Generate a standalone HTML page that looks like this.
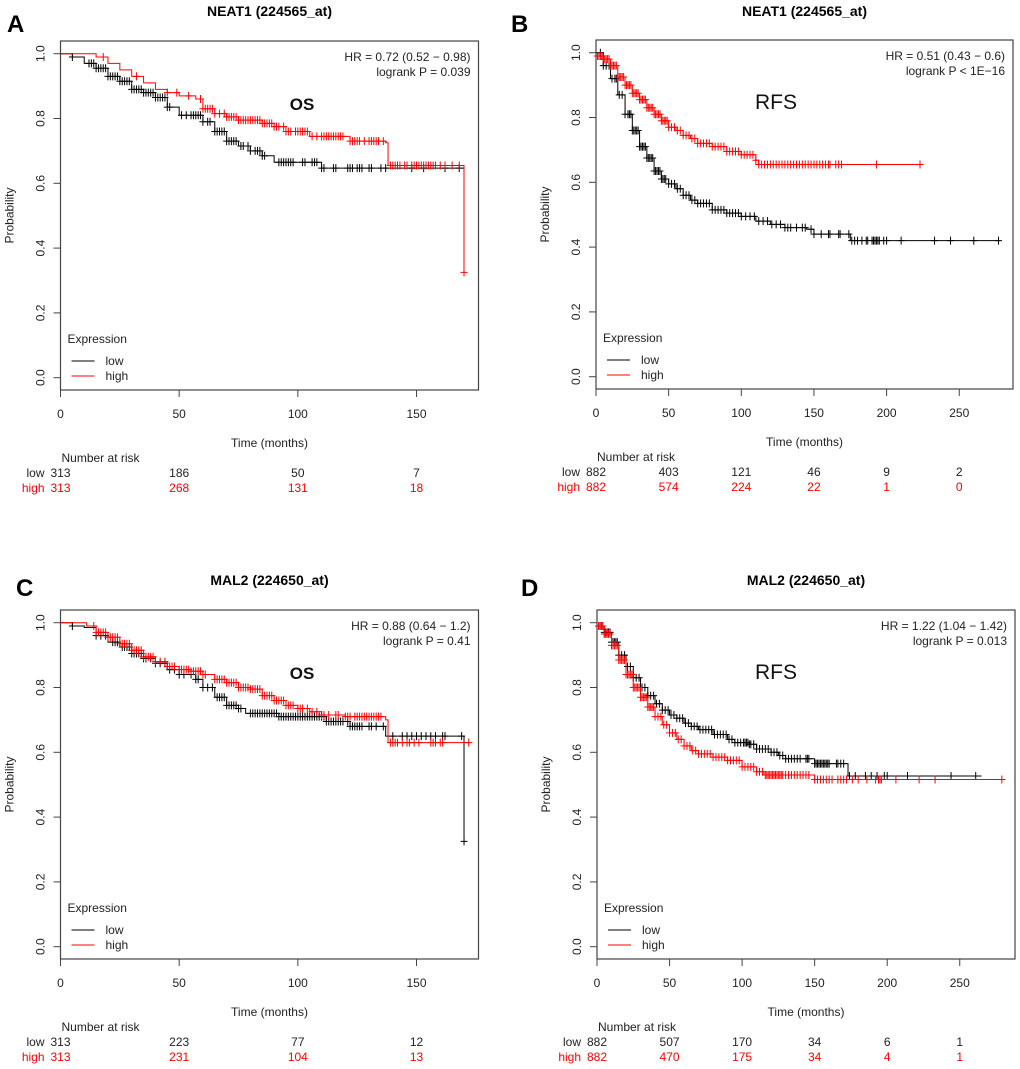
<!DOCTYPE html>
<html><head><meta charset="utf-8"><style>
html,body{margin:0;padding:0;background:#fff;}
svg{display:block;font-family:"Liberation Sans",Arial,sans-serif;}
</style></head><body>
<svg id="fig" width="1020" height="1069" viewBox="0 0 1020 1069" xmlns="http://www.w3.org/2000/svg"></svg>
<script>
// ---- Panel A: NEAT1 OS ----
const aLowT=[0,5,10,15,20,25,30,35,40,45,50,58,60,65,70,75,80,85,90,108,110,170];
const aLowS=[1,0.99,0.97,0.955,0.93,0.915,0.89,0.88,0.865,0.835,0.81,0.81,0.79,0.76,0.73,0.715,0.70,0.685,0.665,0.665,0.647,0.647];
const aLowC=[5,12,13,14,15,16,17,18,19,20,21,22,23,24,25,26,27,28,29,30,31,32,33,34,35,36,37,38,39,40,41,42,43,44,45,46,51,53,55,56,57,58,59,60,62,63,65,66,67,68,69,70,71,72,73,74,76,77,79,80,82,83,84,85,86,92,93,94,95,96,97,98,102,103,106,107,108,110,111,115,116,121,122,123,125,126,127,130,131,135,137,148,153,162,168];
const aHighT=[0,13,15,20,25,30,35,40,45,50,57,60,65,70,75,85,90,95,105,122,137,138,170];
const aHighS=[1,1,0.99,0.97,0.95,0.93,0.91,0.89,0.88,0.87,0.86,0.83,0.815,0.805,0.795,0.785,0.775,0.76,0.745,0.73,0.725,0.655,0.325];
const aHighC=[18,32,45,49,54,59,60,61,62,63,64,65,67,69,70,71,72,73,74,75,76,77,78,79,80,81,82,83,84,85,86,87,88,89,90,91,92,94,95,96,97,99,100,101,102,103,104,106,108,110,111,112,113,114,115,116,117,118,119,122,123,124,125,126,128,130,131,132,133,134,136,139,140,141,142,143,145,146,148,149,150,151,152,153,154,155,156,157,158,160,162,165,168,170];
const aXTicks=[0,50,100,150];
const aRiskLow=["313","186","50","7"];
const aRiskHigh=["313","268","131","18"];
// ---- Panel B: NEAT1 RFS ----
const bLowT=[0,5,10,15,20,25,30,35,40,45,50,55,60,65,70,80,90,100,110,120,130,145,150,170,175,278];
const bLowS=[1,0.96,0.92,0.87,0.81,0.76,0.71,0.675,0.635,0.61,0.595,0.58,0.56,0.545,0.535,0.515,0.505,0.495,0.48,0.47,0.46,0.455,0.44,0.44,0.42,0.42];
const bLowC=[3,5,7,9,11,13,14,16,18,20,22,23,24,25,26,27,28,29,30,31,32,33,34,35,36,37,38,39,40,41,42,43,44,45,46,47,48,50,52,54,56,58,60,62,64,66,68,70,72,74,76,78,80,82,84,86,88,90,92,94,96,98,100,103,106,109,112,115,118,121,124,127,130,132,134,138,142,144,148,150,155,160,161,167,168,174,176,178,180,183,186,187,190,191,192,193,194,195,198,200,210,233,244,260,277];
const bHighT=[0,5,10,15,20,25,30,35,40,45,50,55,60,65,70,80,90,100,110,112,225];
const bHighS=[0.99,0.98,0.96,0.925,0.90,0.875,0.855,0.83,0.81,0.79,0.77,0.76,0.745,0.735,0.72,0.71,0.695,0.685,0.668,0.655,0.655];
const bHighC=[1,2,3,4,5,6,7,8,9,10,11,12,13,14,15,16,17,18,19,20,21,22,23,24,25,26,27,28,29,30,31,32,33,34,35,36,37,38,39,40,41,42,43,44,45,46,47,48,49,50,52,54,56,58,60,62,64,66,68,70,72,74,76,78,80,82,84,86,88,90,92,94,96,98,100,102,104,106,108,110,112,114,116,118,120,122,124,126,128,130,132,134,136,138,140,142,144,146,148,150,152,154,156,158,160,161,165,167,169,193,223];
const bXTicks=[0,50,100,150,200,250];
const bRiskLow=["882","403","121","46","9","2"];
const bRiskHigh=["882","574","224","22","1","0"];
// ---- Panel C: MAL2 OS ----
const cLowT=[0,5,10,15,20,25,30,35,40,45,50,55,57,60,65,70,75,78,90,92,110,112,120,122,136,137,170,170.01];
const cLowS=[1,0.99,0.985,0.96,0.94,0.925,0.905,0.89,0.875,0.855,0.84,0.84,0.825,0.80,0.77,0.745,0.735,0.72,0.72,0.71,0.71,0.695,0.695,0.68,0.68,0.65,0.65,0.325];
const cLowC=[5,15,17,19,22,23,24,26,27,28,29,30,31,32,33,34,35,36,38,40,42,44,46,48,50,52,55,57,58,60,62,64,66,67,68,69,70,71,72,73,74,75,76,80,81,82,83,84,85,86,87,88,89,90,91,92,93,94,95,96,97,98,99,100,101,102,103,104,105,106,107,108,109,110,111,112,113,114,115,116,117,118,119,121,122,123,124,125,126,127,130,131,133,136,140,144,146,148,150,152,154,156,158,161,162,169,170.02];
const cHighT=[0,10,11,15,20,25,30,35,40,45,50,55,60,65,70,75,80,85,90,95,100,105,110,120,137,138,172];
const cHighS=[1,1,0.99,0.97,0.955,0.935,0.915,0.895,0.88,0.865,0.855,0.85,0.84,0.825,0.815,0.80,0.795,0.775,0.76,0.745,0.735,0.725,0.715,0.71,0.70,0.63,0.63];
const cHighC=[14,15,16,17,18,19,20,21,22,23,24,25,26,27,28,29,30,31,32,33,34,35,36,37,38,39,40,42,44,45,46,47,48,50,51,52,53,54,55,56,57,58,59,60,61,65,66,67,68,69,70,71,72,73,74,75,76,77,78,79,80,81,82,83,84,85,86,87,88,89,90,91,92,93,94,95,96,97,98,100,101,102,104,106,108,110,111,113,116,117,120,121,122,124,125,126,127,128,129,130,131,132,133,134,135,139,140,141,142,144,146,147,149,151,156,157,158,160,161,172];
const cXTicks=[0,50,100,150];
const cRiskLow=["313","223","77","12"];
const cRiskHigh=["313","231","104","13"];
// ---- Panel D: MAL2 RFS ----
const dLowT=[0,5,10,15,20,25,30,35,40,45,50,55,60,65,70,80,90,95,105,110,120,125,130,150,172,173,265];
const dLowS=[0.99,0.97,0.94,0.90,0.865,0.83,0.80,0.775,0.75,0.73,0.715,0.705,0.69,0.68,0.67,0.655,0.64,0.63,0.625,0.61,0.60,0.59,0.58,0.565,0.565,0.527,0.527];
const dLowC=[2,3,4,5,6,7,8,9,10,11,12,13,14,15,17,19,21,23,25,27,29,31,33,35,37,39,41,43,45,47,49,51,53,55,57,59,61,63,65,67,69,71,73,75,77,79,81,83,85,87,89,91,93,95,97,99,101,102,103,104,105,106,108,110,112,114,116,118,120,122,124,126,128,130,132,134,136,138,140,144,145,146,150,151,152,153,154,155,156,157,158,159,160,165,166,168,170,174,178,185,189,193,198,200,214,244,261];
const dHighT=[0,5,10,15,20,25,30,35,40,45,50,55,60,65,70,80,90,100,110,115,145,150,280];
const dHighS=[0.99,0.965,0.93,0.885,0.84,0.80,0.77,0.74,0.71,0.685,0.66,0.64,0.62,0.605,0.595,0.585,0.575,0.555,0.54,0.53,0.53,0.516,0.516];
const dHighC=[1,2,3,4,5,6,7,8,9,10,11,12,13,14,15,16,17,18,19,20,21,22,23,24,25,26,27,28,29,30,31,32,33,34,35,36,37,38,39,40,42,44,46,48,50,52,54,56,58,60,62,64,66,68,70,72,74,76,78,80,82,84,86,88,90,92,94,96,98,100,102,104,106,108,110,112,114,116,117,118,119,120,121,122,123,124,125,126,127,128,130,132,134,136,138,140,142,144,146,150,152,154,156,158,160,162,166,168,170,172,176,180,186,192,194,195,196,206,222,233,279];
const dXTicks=[0,50,100,150,200,250];
const dRiskLow=["882","507","170","34","6","1"];
const dRiskHigh=["882","470","175","34","4","1"];
const yTicks=["0.0","0.2","0.4","0.6","0.8","1.0"];

const NS="http://www.w3.org/2000/svg";
const svg=document.getElementById('fig');
function mk(tag,attrs,parent,text){const e=document.createElementNS(NS,tag);for(const k in attrs)e.setAttribute(k,attrs[k]);if(text!==undefined)e.textContent=text;(parent||svg).appendChild(e);return e;}
function stepVal(T,S,t){let v=S[0];for(let i=0;i<T.length;i++){if(T[i]<=t)v=S[i];else break;}return v;}

function panel(p){
  const g=mk('g',{});
  
  
  const X=t=>p.x0+t*p.kx;
  const Y=s=>p.y0-s*324;
  const letter=mk('text',{x:p.lx,y:p.ly,'font-size':24,'font-weight':'bold'},g,p.letter);
  
  
  const title=mk('text',{x:(p.bx1+p.bx2)/2,y:p.ty,'font-size':14,'font-weight':'bold','text-anchor':'middle'},g,p.title);
  
  
  const box=mk('rect',{x:p.bx1,y:p.by1,width:p.bx2-p.bx1,height:p.by2-p.by1,fill:'none',stroke:'#444','stroke-width':1.2},g);
  
  
  // y axis
  yTicks.forEach((lab,i)=>{const v=parseFloat(lab);const y=Y(v);
    mk('line',{x1:p.bx1-7,x2:p.bx1,y1:y,y2:y,stroke:'#444'},g);
    const t=mk('text',{x:0,y:0,'font-size':12,'text-anchor':'middle',fill:'#222',transform:`translate(${p.bx1-16},${y}) rotate(-90)`},g,lab);
    
    
  });
  const yt=mk('text',{x:0,y:0,'font-size':12,'text-anchor':'middle',fill:'#222',transform:`translate(${p.bx1-47},${(p.by1+p.by2)/2}) rotate(-90)`},g,'Probability');
  
  
  // x axis
  p.xt.forEach((v,i)=>{const x=X(v);
    mk('line',{x1:x,x2:x,y1:p.by2,y2:p.by2+7,stroke:'#444'},g);
    const t=mk('text',{x:x,y:p.by2+28,'font-size':12,'text-anchor':'middle',fill:'#222'},g,String(v));
    
    
    const rl=mk('text',{x:x,y:p.by2+87,'font-size':12,'text-anchor':'middle',fill:'#222'},g,p.rl[i]);
    
    
    const rh=mk('text',{x:x,y:p.by2+102,'font-size':12,'text-anchor':'middle',fill:'#f00'},g,p.rh[i]);
    
    
  });
  const xt=mk('text',{x:(p.bx1+p.bx2)/2,y:p.by2+57,'font-size':12,'text-anchor':'middle',fill:'#222'},g,'Time (months)');
  
  
  const nr=mk('text',{x:p.bx1+1,y:p.by2+72,'font-size':12,fill:'#222'},g,'Number at risk');
  
  
  const lr=mk('text',{x:p.bx1-16,y:p.by2+87,'font-size':12,'text-anchor':'end',fill:'#222'},g,'low');
  
  
  const hr=mk('text',{x:p.bx1-16,y:p.by2+102,'font-size':12,'text-anchor':'end',fill:'#f00'},g,'high');
  
  
  // stats
  const s1=mk('text',{x:p.bx2-8,y:p.by1+20,'font-size':12,'text-anchor':'end',fill:'#222'},g,p.hr);
  
  
  const s2=mk('text',{x:p.bx2-8,y:p.by1+35,'font-size':12,'text-anchor':'end',fill:'#222'},g,p.lp);
  
  
  const ep=mk('text',{x:p.epx,y:p.by1+69,'font-size':p.eps,'text-anchor':'middle',fill:'#111','font-weight':p.epw},g,p.ep);
  
  
  // legend
  const lg=mk('g',{},g);
  
  
  mk('text',{x:p.bx1+7,y:p.by2-47,'font-size':12,fill:'#222'},lg,'Expression');
  mk('line',{x1:p.bx1+11,x2:p.bx1+34,y1:p.by2-29,y2:p.by2-29,stroke:'#000'},lg);
  mk('text',{x:p.bx1+45,y:p.by2-25,'font-size':12,fill:'#222'},lg,'low');
  mk('line',{x1:p.bx1+11,x2:p.bx1+34,y1:p.by2-14,y2:p.by2-14,stroke:'#f00'},lg);
  mk('text',{x:p.bx1+45,y:p.by2-10,'font-size':12,fill:'#222'},lg,'high');
  // curves
  [[p.lowT,p.lowS,p.lowC,'#000','low'],[p.highT,p.highS,p.highC,'#f00','high']].forEach(([T,S,C,col,nm])=>{
    let d=`M${X(T[0])},${Y(S[0])}`;
    for(let i=1;i<T.length;i++)d+=`H${X(T[i])}V${Y(S[i])}`;
    const path=mk('path',{d:d,fill:'none',stroke:col,'stroke-width':1},g);
    
    
    let cd='';
    C.forEach(t=>{const x=X(t),y=Y(stepVal(T,S,t));cd+=`M${x-3.5},${y}H${x+3.5}M${x},${y-4}V${y+4}`;});
    const cp=mk('path',{d:cd,fill:'none',stroke:col,'stroke-width':1},g);
    
    
  });
}
const dy=569;
panel({id:'a',letter:'A',lx:7,ly:32,title:'NEAT1 (224565_at)',ty:16,bx1:60.5,bx2:478.5,by1:41,by2:390,x0:60.5,kx:2.3735,y0:377.7,xt:aXTicks,rl:aRiskLow,rh:aRiskHigh,hr:'HR = 0.72 (0.52 − 0.98)',lp:'logrank P = 0.039',ep:'OS',epx:302,eps:17,epw:'bold',lowT:aLowT,lowS:aLowS,lowC:aLowC,highT:aHighT,highS:aHighS,highC:aHighC});
panel({id:'b',letter:'B',lx:511,ly:32,title:'NEAT1 (224565_at)',ty:16,bx1:596,bx2:1013,by1:40,by2:389,x0:596,kx:1.453,y0:376.7,xt:bXTicks,rl:bRiskLow,rh:bRiskHigh,hr:'HR = 0.51 (0.43 − 0.6)',lp:'logrank P < 1E−16',ep:'RFS',epx:776,eps:21,epw:'normal',lowT:bLowT,lowS:bLowS,lowC:bLowC,highT:bHighT,highS:bHighS,highC:bHighC});
panel({id:'c',letter:'C',lx:16,ly:596,title:'MAL2 (224650_at)',ty:585,bx1:60.5,bx2:478.5,by1:610,by2:959,x0:60.5,kx:2.3735,y0:377.7+dy,xt:cXTicks,rl:cRiskLow,rh:cRiskHigh,hr:'HR = 0.88 (0.64 − 1.2)',lp:'logrank P = 0.41',ep:'OS',epx:302,eps:17,epw:'bold',lowT:cLowT,lowS:cLowS,lowC:cLowC,highT:cHighT,highS:cHighS,highC:cHighC});
panel({id:'d',letter:'D',lx:521,ly:596,title:'MAL2 (224650_at)',ty:585,bx1:597,bx2:1015,by1:610,by2:959,x0:597,kx:1.451,y0:377.7+dy,xt:dXTicks,rl:dRiskLow,rh:dRiskHigh,hr:'HR = 1.22 (1.04 − 1.42)',lp:'logrank P = 0.013',ep:'RFS',epx:776,eps:21,epw:'normal',lowT:dLowT,lowS:dLowS,lowC:dLowC,highT:dHighT,highS:dHighS,highC:dHighC});
</script>
</body></html>
